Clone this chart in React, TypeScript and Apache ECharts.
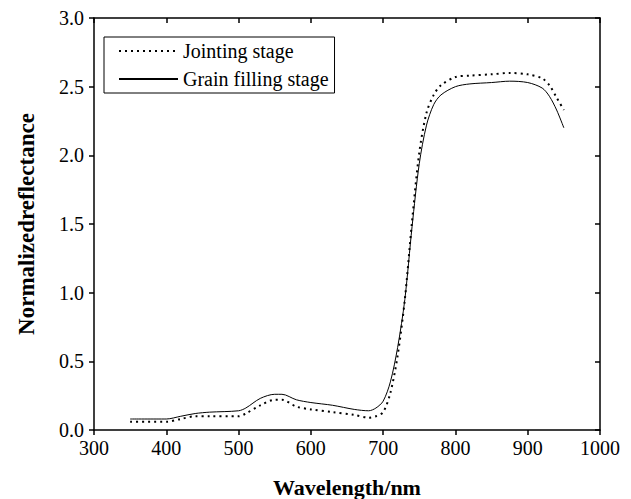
import React, { useEffect, useRef } from "react";
import * as echarts from "echarts";

const wavelengths = [350, 400, 420, 440, 460, 500, 510, 530, 550, 560, 580, 600, 630, 660, 680, 690, 700, 710, 720, 730, 740, 750, 760, 770, 780, 800, 820, 850, 875, 900, 920, 930, 940, 950];
const jointing = [0.06, 0.06, 0.08, 0.10, 0.10, 0.10, 0.12, 0.18, 0.22, 0.22, 0.17, 0.15, 0.13, 0.11, 0.09, 0.10, 0.13, 0.27, 0.54, 0.95, 1.52, 2.02, 2.31, 2.44, 2.51, 2.57, 2.58, 2.59, 2.6, 2.59, 2.56, 2.51, 2.42, 2.33];
const grainFilling = [0.08, 0.08, 0.10, 0.12, 0.13, 0.14, 0.16, 0.23, 0.26, 0.26, 0.22, 0.20, 0.18, 0.15, 0.14, 0.16, 0.21, 0.35, 0.60, 0.95, 1.48, 1.94, 2.22, 2.37, 2.44, 2.50, 2.52, 2.53, 2.54, 2.53, 2.49, 2.43, 2.33, 2.2];
const seriesNames = ["Jointing stage", "Grain filling stage"];
const xTicks = { min: 300, max: 1000, interval: 100 };
const yTicks = { min: 0, max: 3, interval: 0.5 };

const FONT = "Liberation Serif";

export default function App() {
  const ref = useRef<HTMLDivElement>(null);
  useEffect(() => {
    const chart = echarts.init(ref.current!, null, { renderer: "svg" });
    const axisLine = { show: true, onZero: false, lineStyle: { color: "#000", width: 1.5 } };
    chart.setOption({
      animation: false,
      backgroundColor: "#fff",
      grid: { left: 94, right: 31, top: 18, bottom: 69, containLabel: false, outerBoundsMode: "none" },
      legend: {
        orient: "vertical",
        left: 104,
        top: 37,
        padding: [4, 6, 4, 14],
        itemGap: 8,
        itemWidth: 59,
        itemHeight: 14,
        borderColor: "#000",
        borderWidth: 1,
        borderRadius: 0,
        itemStyle: { opacity: 0 },
        textStyle: { fontFamily: FONT, fontSize: 20, color: "#000" },
        data: seriesNames,
      },
      xAxis: [
        {
          type: "value",
          position: "bottom",
          min: xTicks.min,
          max: xTicks.max,
          interval: xTicks.interval,
          name: "Wavelength/nm",
          nameLocation: "middle",
          nameGap: 46,
          nameTextStyle: { fontFamily: FONT, fontSize: 22, fontWeight: "bold", color: "#000" },
          axisLine,
          axisTick: { show: true, inside: false, length: 5, lineStyle: { color: "#000", width: 1.5 } },
          axisLabel: { fontFamily: FONT, fontSize: 20, color: "#000", margin: 8, formatter: (v: number) => String(v) },
          splitLine: { show: false },
        },
        {
          type: "value",
          position: "top",
          min: xTicks.min,
          max: xTicks.max,
          interval: xTicks.interval,
          axisLine,
          axisTick: { show: true, inside: true, length: 5, lineStyle: { color: "#000", width: 1.5 } },
          axisLabel: { show: false },
          splitLine: { show: false },
        },
      ],
      yAxis: [
        {
          type: "value",
          position: "left",
          min: yTicks.min,
          max: yTicks.max,
          interval: yTicks.interval,
          name: "Normalizedreflectance",
          nameLocation: "middle",
          nameGap: 56,
          nameTextStyle: { fontFamily: FONT, fontSize: 23, fontWeight: "bold", color: "#000" },
          axisLine,
          axisTick: { show: true, inside: false, length: 5, lineStyle: { color: "#000", width: 1.5 } },
          axisLabel: { fontFamily: FONT, fontSize: 20, color: "#000", margin: 10, formatter: (v: number) => v.toFixed(1) },
          splitLine: { show: false },
        },
        {
          type: "value",
          position: "right",
          min: yTicks.min,
          max: yTicks.max,
          interval: yTicks.interval,
          axisLine,
          axisTick: { show: true, inside: true, length: 5, lineStyle: { color: "#000", width: 1.5 } },
          axisLabel: { show: false },
          splitLine: { show: false },
        },
      ],
      series: [
        {
          name: seriesNames[0],
          type: "line",
          smooth: 0.3,
          symbol: "none",
          data: wavelengths.map((w, i) => [w, jointing[i]]),
          lineStyle: { color: "#000", width: 2, type: [2, 4] },
          itemStyle: { color: "#000", opacity: 0 },
        },
        {
          name: seriesNames[1],
          type: "line",
          smooth: 0.3,
          symbol: "none",
          data: wavelengths.map((w, i) => [w, grainFilling[i]]),
          lineStyle: { color: "#000", width: 1 },
          itemStyle: { color: "#000", opacity: 0 },
        },
      ],
    });
    return () => chart.dispose();
  }, []);
  return (
    <div
      ref={ref}
      style={{ position: "absolute", left: 0, top: 0, width: 631, height: 499 }}
    />
  );
}
